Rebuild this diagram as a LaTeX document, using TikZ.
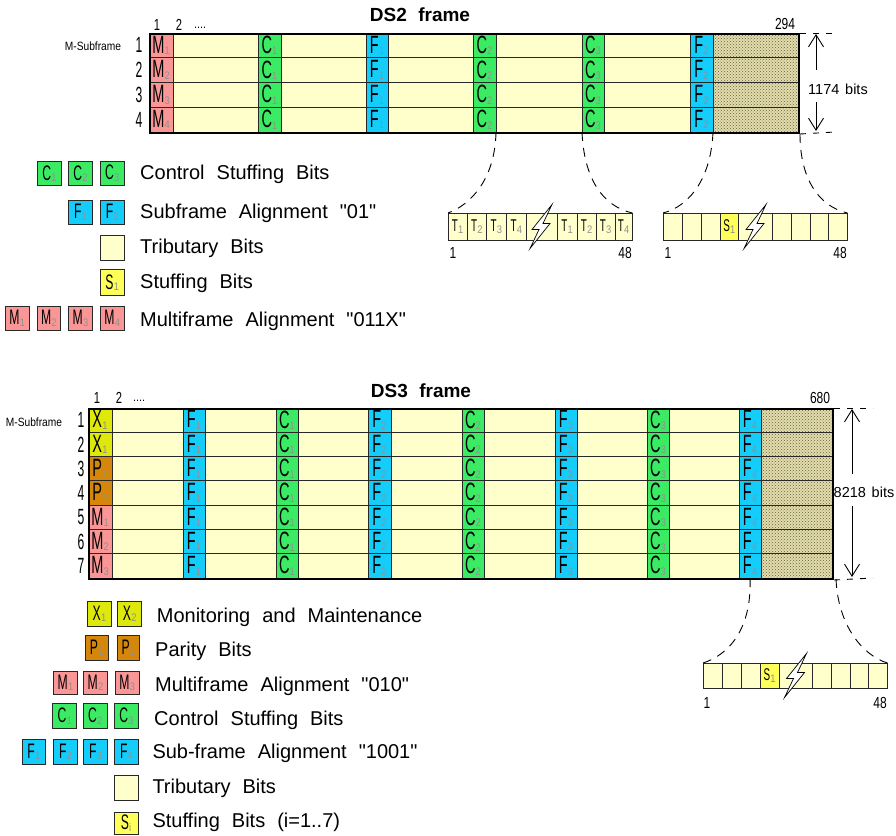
\documentclass[tikz,border=0pt]{standalone}
\usepackage{fontspec}
\setmainfont{Liberation Sans}[Ligatures=TeXOff]
\usetikzlibrary{arrows.meta,patterns}
\definecolor{cT}{RGB}{255,255,204}
\definecolor{cM}{RGB}{250,150,150}
\definecolor{cC}{RGB}{60,235,100}
\definecolor{cF}{RGB}{20,205,250}
\definecolor{cS}{RGB}{255,255,90}
\definecolor{cX}{RGB}{222,232,10}
\definecolor{cP}{RGB}{212,135,10}
\definecolor{cH}{RGB}{226,221,172}
\definecolor{hatchdot}{RGB}{105,95,65}
\definecolor{subg}{RGB}{145,145,145}
\definecolor{lc}{RGB}{40,40,40}
\newcommand{\bitlab}[3]{\scalebox{0.58}[1]{\fontsize{#3}{#3}\selectfont #1}\kern0.2pt\raisebox{-1.5pt}{\scalebox{0.85}[1]{\fontsize{11}{11}\selectfont\color{subg}#2}}}
\newcommand{\bA}[2]{\bitlab{#1}{#2}{25}}
\newcommand{\bB}[2]{\bitlab{#1}{#2}{21}}
\newcommand{\bC}[2]{\bitlab{#1}{#2}{17}}
\newcommand{\cond}[3]{\scalebox{#1}[1]{\fontsize{#2}{#2}\selectfont #3}}
\newcommand{\legfont}{\fontsize{20}{20}\selectfont\spaceskip=0.6em plus 0.1em}
\newcommand{\titfont}{\fontsize{19}{19}\selectfont\bfseries\spaceskip=0.6em}
\newcommand{\dimfont}{\fontsize{14.5}{14.5}\selectfont\spaceskip=0.4em}
\newcommand{\boltat}[2]{\draw[bolt, shift={(#1,#2)}] (11,-22) -- (2,-3) -- (9,-3) -- (-11,22) -- (-2,3) -- (-9,3) -- cycle;}
\begin{document}
\begin{tikzpicture}[x=1pt,y=-1pt,
 bit/.style={draw=lc, line width=0.8pt, inner sep=0pt, outer sep=0pt, anchor=north west},
 lbox/.style={draw=lc, line width=0.9pt, inner sep=0pt, anchor=north west, minimum height=24pt, minimum width=24pt},
 hatchc/.style={preaction={fill=cH}, pattern=crosshatch dots, pattern color=hatchdot},
 rowl/.style={draw=lc, line width=0.8pt},
 frm/.style={draw=black, line width=2pt, inner sep=0pt, anchor=north west},
 arr/.style={-{Straight Barb[length=12pt,width=15pt,line width=0.9pt]}, line width=0.9pt},
 tickl/.style={line width=0.9pt, dash pattern=on 6pt off 7pt},
 expl/.style={line width=0.9pt, dash pattern=on 9pt off 7pt},
 legtxt/.style={anchor=base west, inner sep=0pt, font=\legfont},
 txt/.style={inner sep=0pt},
 bolt/.style={draw=black, fill=white, line width=0.7pt, line join=miter}]
\useasboundingbox (0,0) rectangle (896,835);

% ================= DS2 frame =================
\node[txt, font=\titfont] (t2) at (420,15) {DS2 frame};
\node[txt] (c2a) at (157,25) {\cond{0.7}{16}{1}};
\node[txt] (c2b) at (179,25) {\cond{0.7}{16}{2}};
\node[txt] (c2c) at (200,28) {\cond{0.9}{12}{....}};
\node[txt] (n294) at (785,24) {\cond{0.75}{16}{294}};
\node[txt] (ms2) at (93,46) {\cond{0.85}{12}{M-Subframe}};
\foreach \r in {1,...,4}{
  \pgfmathsetmacro\yy{33+(\r-1)*24.75}
  \pgfmathsetmacro\yc{\yy+12.4}
  \node[txt] (rn2-\r) at (139,\yc) {\cond{0.55}{22}{\r}};
  \fill[cT] (149,\yy) rectangle (798,\yy+24.75);
  \node[bit, fill=cM, minimum width=24pt, minimum height=24.75pt] (a\r-m) at (149,\yy) {\bA{M}{\r}};
  \foreach \x/\w/\c/\L/\s/\n in {258/23/cC/C/1/c1, 366/22/cF/F/1/f1, 473/23/cC/C/2/c2, 582/22/cC/C/3/c3, 690/23/cF/F/2/f2}
    \node[bit, fill=\c, minimum width=\w pt, minimum height=24.75pt] (a\r-\n) at (\x,\yy) {\bA{\L}{\s}};
  \node[bit, hatchc, minimum width=85pt, minimum height=24.75pt] (a\r-h) at (713,\yy) {};
}
\foreach \r in {1,2,3} \draw[rowl] (149,33+\r*24.75) -- (798,33+\r*24.75);
\node[frm, minimum width=649pt, minimum height=99pt] (ds2) at (149,33) {};
% dimension
\coordinate (d2t) at (816,34);
\coordinate (d2b) at (816,131);
\draw[tickl] (ds2.north east) -- (835,33);
\draw[tickl] (ds2.south east) -- (835,132);
\node[txt, font=\dimfont] (dim2) at (838,89) {1174 bits};
\draw[arr] (816,70) -- (d2t);
\draw[arr] (816,102) -- (d2b);

% expansion blocks DS2
\node[inner sep=0pt, minimum width=184pt, minimum height=27pt, anchor=north west] (blk1) at (448,213) {};
\foreach \a/\b/\L/\s [count=\k] in {448/467/T/1, 467/486.5/T/2, 486.5/506/T/3, 506/526.5/T/4, 526.5/557//, 557/577/T/1, 577/596/T/2, 596/615/T/3, 615/632/T/4}{
  \pgfmathsetmacro\ww{\b-\a}
  \node[bit, fill=cT, minimum width=\ww pt, minimum height=27pt] (k1-\k) at (\a,213) {\bC{\L}{\s}};
}
\boltat{541}{226.5}
\node[txt] (k1s) at (453,253) {\cond{0.75}{16}{1}};
\node[txt] (k1e) at (625,253) {\cond{0.75}{16}{48}};

\node[inner sep=0pt, minimum width=184pt, minimum height=27pt, anchor=north west] (blk2) at (663,213) {};
\foreach \a/\b [count=\k] in {663/682, 682/701, 701/720, 738.5/772, 772/791, 791/810, 810/828.5, 828.5/847}{
  \pgfmathsetmacro\ww{\b-\a}
  \node[bit, fill=cT, minimum width=\ww pt, minimum height=27pt] (k2-\k) at (\a,213) {};
}
\node[bit, fill=cS, minimum width=18.5pt, minimum height=27pt] (k2-s) at (720,213) {\bC{S}{1}};
\boltat{755}{226.5}
\node[txt] (k2s) at (668,253) {\cond{0.75}{16}{1}};
\node[txt] (k2e) at (840,253) {\cond{0.75}{16}{48}};

\draw[expl] (a4-c2.south east) .. controls (495,180) and (470,205) .. (blk1.north west);
\draw[expl] (a4-c3.south west) .. controls (584,178) and (602,206) .. (blk1.north east);
\draw[expl] (a4-f2.south east) .. controls (711,178) and (690,206) .. (blk2.north west);
\draw[expl] (ds2.south east) .. controls (800,178) and (818,206) .. (blk2.north east);

% legend DS2
\foreach \x/\L/\s [count=\k] in {37.3/C/1, 68.3/C/2, 100/C/3}
  \node[lbox, fill=cC, minimum width=23.5pt] (l2c\k) at (\x,161) {\bB{\L}{\s}};
\node[legtxt] (l2ct) at (140,179.5) {Control Stuffing Bits};
\foreach \x/\L/\s [count=\k] in {68.3/F/1, 100/F/2}
  \node[lbox, fill=cF, minimum width=23.5pt] (l2f\k) at (\x,200) {\bB{\L}{\s}};
\node[legtxt] (l2ft) at (140,218.5) {Subframe Alignment "01"};
\node[lbox, fill=cT, minimum width=23.5pt, minimum height=25pt] (l2t) at (100,235) {};
\node[legtxt] (l2tt) at (140,253.5) {Tributary Bits};
\node[lbox, fill=cS, minimum width=23.5pt, minimum height=26pt] (l2s) at (100,269) {\bB{S}{1}};
\node[legtxt] (l2st) at (140,288.5) {Stuffing Bits};
\foreach \x/\L/\s [count=\k] in {5/M/1, 36.7/M/2, 68.3/M/3, 100/M/4}
  \node[lbox, fill=cM, minimum width=23.5pt] (l2m\k) at (\x,306) {\bB{\L}{\s}};
\node[legtxt] (l2mt) at (140,326.5) {Multiframe Alignment "011X"};

% ================= DS3 frame =================
\node[txt, font=\titfont] (t3) at (421,391) {DS3 frame};
\node[txt] (c3a) at (97,398) {\cond{0.7}{16}{1}};
\node[txt] (c3b) at (119,398) {\cond{0.7}{16}{2}};
\node[txt] (c3c) at (139,401) {\cond{0.9}{12}{....}};
\node[txt] (n680) at (820,398) {\cond{0.75}{16}{680}};
\node[txt] (ms3) at (34,422) {\cond{0.85}{12}{M-Subframe}};
\foreach \c/\L/\s [count=\r] in {cX/X/1, cX/X/1, cP/P/1, cP/P/2, cM/M/1, cM/M/2, cM/M/3}{
  \pgfmathsetmacro\yy{408+(\r-1)*24.2857}
  \pgfmathsetmacro\yc{\yy+12.1}
  \node[txt] (rn3-\r) at (81,\yc) {\cond{0.55}{22}{\r}};
  \fill[cT] (88,\yy) rectangle (832,\yy+24.2857);
  \node[bit, fill=\c, minimum width=24pt, minimum height=24.2857pt] (b\r-m) at (88,\yy) {\bA{\L}{\s}};
  \foreach \x/\w/\cc/\LL/\ss/\n in {183/22/cF/F/1/f1, 276/22/cC/C/1/c1, 368/23/cF/F/2/f2, 462/22/cC/C/2/c2, 555/22/cF/F/3/f3, 647/22/cC/C/3/c3, 739/22/cF/F/4/f4}
    \node[bit, fill=\cc, minimum width=\w pt, minimum height=24.2857pt] (b\r-\n) at (\x,\yy) {\bA{\LL}{\ss}};
  \node[bit, hatchc, minimum width=71pt, minimum height=24.2857pt] (b\r-h) at (761,\yy) {};
}
\foreach \r in {1,...,6} \draw[rowl] (88,408+\r*24.2857) -- (832,408+\r*24.2857);
\node[frm, minimum width=744pt, minimum height=170pt] (ds3) at (88,408) {};
\coordinate (d3t) at (852,409);
\coordinate (d3b) at (852,577);
\draw[tickl] (ds3.north east) -- (873,408);
\draw[tickl] (ds3.south east) -- (873,578);
\node[txt, font=\dimfont] (dim3) at (864,492) {8218 bits};
\draw[arr] (852,474) -- (d3t);
\draw[arr] (852,506) -- (d3b);

% expansion block DS3
\node[inner sep=0pt, minimum width=184pt, minimum height=25pt, anchor=north west] (blk3) at (703,663) {};
\foreach \a/\b [count=\k] in {703/722, 722/741.5, 741.5/760, 779/812, 812/831.5, 831.5/850, 850/868.5, 868.5/887}{
  \pgfmathsetmacro\ww{\b-\a}
  \node[bit, fill=cT, minimum width=\ww pt, minimum height=25pt] (k3-\k) at (\a,663) {};
}
\node[bit, fill=cS, minimum width=19pt, minimum height=25pt] (k3-s) at (760,663) {\bC{S}{1}};
\boltat{795.5}{675.5}
\node[txt] (k3s) at (707,703) {\cond{0.75}{16}{1}};
\node[txt] (k3e) at (880,703) {\cond{0.75}{16}{48}};
\coordinate (e3) at (836,579);
\draw[expl] (b7-f4.south) .. controls (752,630) and (728,655) .. (blk3.north west);
\draw[expl] (e3) .. controls (838,625) and (862,655) .. (blk3.north east);

% legend DS3
\node[lbox, fill=cX, minimum width=23.5pt, minimum height=25pt] (l3x1) at (87.3,601) {\bB{X}{1}};
\node[lbox, fill=cX, minimum width=24pt, minimum height=25pt] (l3x2) at (117.3,601) {\bB{X}{2}};
\node[legtxt] (l3xt) at (156.7,622.3) {Monitoring and Maintenance};
\node[lbox, fill=cP, minimum width=22.5pt, minimum height=25pt] (l3p1) at (85,635) {\bB{P}{1}};
\node[lbox, fill=cP, minimum width=22.5pt, minimum height=25pt] (l3p2) at (116.7,635) {\bB{P}{2}};
\node[legtxt] (l3pt) at (155,656.7) {Parity Bits};
\foreach \x/\L/\s [count=\k] in {53.3/M/1, 83.3/M/2, 115/M/3}
  \node[lbox, fill=cM, minimum width=23.5pt, minimum height=22.5pt] (l3m\k) at (\x,671) {\bB{\L}{\s}};
\node[legtxt] (l3mt) at (155,691) {Multiframe Alignment "010"};
\foreach \x/\L/\s [count=\k] in {52.3/C/1, 82.7/C/2, 114/C/3}
  \node[lbox, fill=cC, minimum width=24pt, minimum height=24.5pt] (l3c\k) at (\x,703.3) {\bB{\L}{\s}};
\node[legtxt] (l3ct) at (154,725.7) {Control Stuffing Bits};
\foreach \x/\L/\s [count=\k] in {21.7/F/1, 53.3/F/2, 83.3/F/3, 114.3/F/4}
  \node[lbox, fill=cF, minimum width=23.5pt, minimum height=25pt] (l3f\k) at (\x,739) {\bB{\L}{\s}};
\node[legtxt] (l3ft) at (152.3,758.3) {Sub-frame Alignment "1001"};
\node[lbox, fill=cT, minimum width=24pt, minimum height=25pt] (l3t) at (114,775) {};
\node[legtxt] (l3tt) at (152.3,793.3) {Tributary Bits};
\node[lbox, fill=cS, minimum width=24pt, minimum height=22pt] (l3s) at (113.5,811.7) {\bB{S}{i}};
\node[legtxt] (l3st) at (152.3,827.7) {Stuffing Bits (i=1..7)};
\end{tikzpicture}
\end{document}
